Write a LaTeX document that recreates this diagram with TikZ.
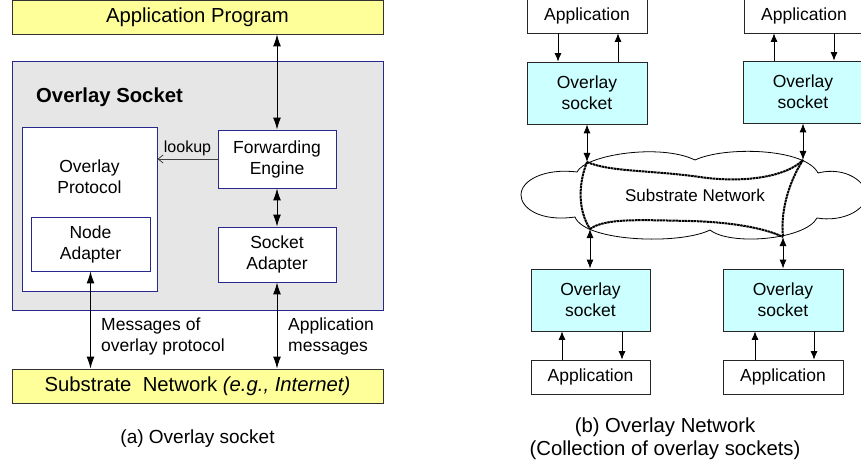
\documentclass[tikz,border=0pt]{standalone}
\usepackage{fontspec}
\setmainfont{Liberation Sans}
\usetikzlibrary{arrows.meta}
\definecolor{ylw}{HTML}{FFFF99}
\definecolor{gry}{HTML}{E6E6E6}
\definecolor{navyb}{RGB}{40,40,140}
\definecolor{cyn}{HTML}{CCFFFF}
\newcommand\fbigx{\fontsize{20.3}{24}\selectfont}
\newcommand\fmidx{\fontsize{17.5}{21}\selectfont}
\newcommand\fsmx{\fontsize{16}{19}\selectfont}
\begin{document}
\begin{tikzpicture}[x=1pt,y=-1pt,
  base/.style={inner sep=0pt, align=center, font=\fmidx},
  lbox/.style={base, draw=navyb, line width=0.9pt, fill=white},
  ybox/.style={base, draw=black!80, line width=0.9pt, fill=ylw, font=\fbigx, minimum width=371pt},
  rbox/.style={base, draw=black!85, line width=0.8pt, fill=white, minimum width=120pt, minimum height=34pt},
  obox/.style={rbox, fill=cyn, minimum height=62pt},
  dbl/.style={{Latex[length=12pt,width=8pt]}-{Latex[length=12pt,width=8pt]}, line width=1pt},
  sdbl/.style={{Latex[length=9pt,width=7pt]}-{Latex[length=9pt,width=7pt]}, line width=0.9pt},
  sar/.style={-{Latex[length=8.5pt,width=7pt]}, line width=0.8pt},
  ovl/.style={line width=2pt, dash pattern=on 2.5pt off 0.6pt},
  txt/.style={inner sep=0pt, align=left, font=\fmidx}]
\useasboundingbox (0,0) rectangle (861,465);

% ---------- (a) ----------
\node[ybox, minimum height=33.5pt] (app) at (197.5,17.25) {Application Program};
\node[base, draw=navyb, line width=0.9pt, fill=gry, minimum width=371pt, minimum height=249pt] (sock) at (197.5,185.5) {};
\node[inner sep=0pt, anchor=west, font=\fbigx\bfseries] (socktitle) at (36,97) {Overlay Socket};
\node[lbox, minimum width=135pt, minimum height=164pt] (proto) at (89.5,209) {};
\node[base] (protolabel) at (89.5,177) {Overlay\\Protocol};
\node[lbox, minimum width=119pt, minimum height=54pt] (nadapt) at (90.5,244) {Node\\Adapter};
\node[lbox, minimum width=118pt, minimum height=58pt] (fwd) at (277,159) {Forwarding\\Engine};
\node[lbox, minimum width=118pt, minimum height=55pt] (sadapt) at (277,254.5) {Socket\\Adapter};
\node[ybox, minimum height=34pt] (sub) at (197.5,386) {Substrate\ \ Network \textit{(e.g., Internet)}};
\node[inner sep=0pt, font=\fontsize{19}{22}\selectfont] (capa) at (197.5,439) {(a) Overlay socket};

\draw[dbl] (fwd.north) -- (fwd.north |- app.south);
\draw[dbl] (fwd.south) -- (sadapt.north);
\draw[dbl] (nadapt.south) -- (nadapt.south |- sub.north);
\draw[dbl] (sadapt.south) -- (sadapt.south |- sub.north);
\draw[-{Straight Barb[length=5pt,width=8pt]}, line width=0.8pt, draw=black!75] (fwd.west) -- (fwd.west -| proto.east)
  node[midway, above=3pt, inner sep=0pt, font=\fsmx] (lookup) {lookup};
\node[txt, anchor=west] (msgl) at (101,336.5) {Messages of\\overlay protocol};
\node[txt, anchor=west] (msgr) at (288,336.5) {Application\\messages};

% ---------- (b) ----------
\node[rbox, minimum height=35pt] (appTL) at (587,15.5) {Application};
\node[obox] (osTL) at (587,93) {Overlay\\socket};
\node[rbox, minimum height=35pt] (appTR) at (804,15.5) {Application};
\node[obox] (osTR) at (803,92) {Overlay\\socket};
\node[obox, minimum width=119pt] (osBL) at (590.5,300) {Overlay\\socket};
\node[rbox, minimum width=119pt] (appBL) at (590.5,377) {Application};
\node[obox] (osBR) at (783,300) {Overlay\\socket};
\node[rbox] (appBR) at (783,377) {Application};

\draw[sar] ([xshift=-29pt]appTL.south) -- ([xshift=-29pt]osTL.north);
\draw[sar] ([xshift=31pt]osTL.north) -- ([xshift=31pt]appTL.south);
\draw[sar] ([xshift=-29pt]osTR.north) -- ([xshift=-29pt]appTR.south -| osTR.north);
\draw[sar] ([xshift=31pt]appTR.south -| osTR.north) -- ([xshift=31pt]osTR.north);
\draw[sar] ([xshift=-28.5pt]appBL.north) -- ([xshift=-28.5pt]osBL.south);
\draw[sar] ([xshift=31.5pt]osBL.south) -- ([xshift=31.5pt]appBL.north);
\draw[sar] ([xshift=-28pt]appBR.north) -- ([xshift=-28pt]osBR.south);
\draw[sar] ([xshift=31pt]osBR.south) -- ([xshift=31pt]appBR.north);

% cloud
\draw[line width=0.8pt, fill=white] (577,172)
  .. controls (585,155) and (660,143) .. (695,160)
  .. controls (725,146) and (805,148) .. (818,173)
  .. controls (845,166) and (868,182) .. (866,197)
  .. controls (864,212) and (840,222) .. (817,218)
  .. controls (805,240) and (730,246) .. (710,230)
  .. controls (680,245) and (585,242) .. (575,217)
  .. controls (540,222) and (521,208) .. (521,195)
  .. controls (521,180) and (545,168) .. (577,172) -- cycle;
\node[inner sep=0pt, font=\fontsize{17}{20}\selectfont] (subnet) at (695,195) {Substrate Network};

\coordinate (A) at (587,162);
\coordinate (B) at (803,160);
\coordinate (C) at (590,229);
\coordinate (D) at (783,237);
\draw[ovl] (A) .. controls (610,172) and (650,170) .. (700,177)
  .. controls (740,183) and (785,178) .. (B);
\draw[ovl] (A) .. controls (578,185) and (578,210) .. (C);
\draw[ovl] (C) .. controls (605,218) and (640,220) .. (690,221)
  .. controls (730,222) and (765,228) .. (D);
\draw[ovl] (B) .. controls (790,180) and (780,210) .. (D);

\draw[sdbl] (osTL.south) -- (A);
\draw[sdbl] (osTR.south) -- (B);
\draw[sdbl] (C) -- (C |- osBL.north);
\draw[sdbl] (D) -- (osBR.north);

\node[inner sep=0pt, align=center, font=\fontsize{20.3}{23}\selectfont] (capb) at (665,438.5) {(b) Overlay Network\\(Collection of overlay sockets)};
\end{tikzpicture}
\end{document}
